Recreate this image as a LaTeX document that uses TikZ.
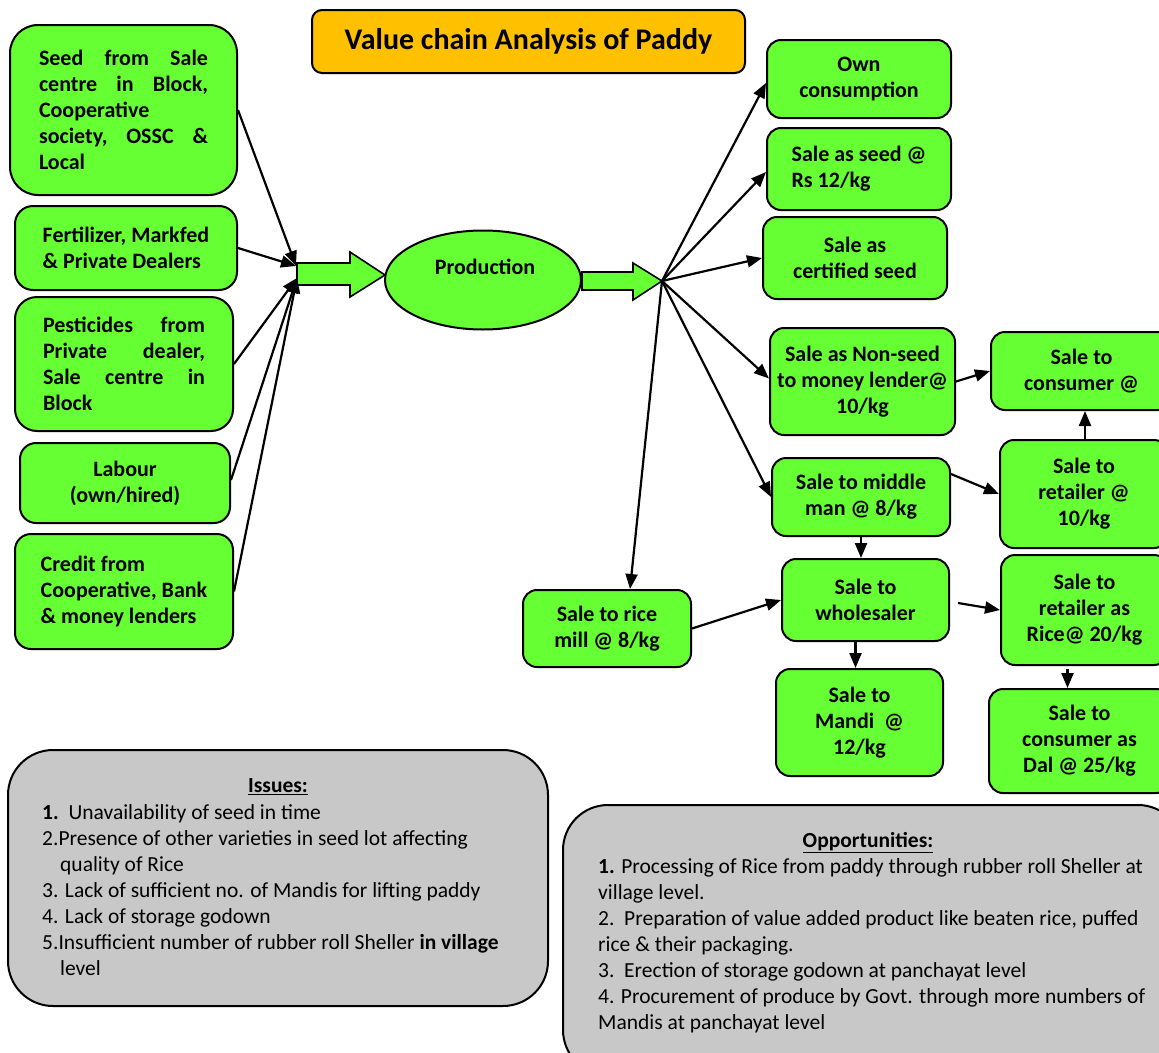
\documentclass[tikz,border=0pt]{standalone}
\usepackage{fontspec}
\setmainfont{Carlito}
\usetikzlibrary{shapes.geometric,arrows.meta}
\definecolor{boxgreen}{HTML}{66FF33}
\definecolor{titleorange}{HTML}{FFC000}
\definecolor{notegray}{HTML}{C8C8C8}
\newcommand{\spread}[2]{\makebox[#1]{#2}}
\begin{document}
\begin{tikzpicture}[x=1pt,y=-1pt,
  gbox/.style={draw, line width=2pt, fill=boxgreen, rounded corners=14pt,
    inner sep=0pt, align=flush center, font=\bfseries\fontsize{22}{26}\selectfont},
  link/.style={line width=2.2pt, -{Triangle[length=15pt,width=12pt]}},
  note/.style={draw, line width=2pt, fill=notegray, rounded corners=45pt},
  notetext/.style={inner sep=0pt, align=flush left, font=\fontsize{21.5}{26}\selectfont},
  notehead/.style={inner sep=0pt, font=\bfseries\fontsize{21.5}{26}\selectfont},
  blockarrow/.style={draw, line width=1.6pt, fill=boxgreen, line join=miter}
]
\useasboundingbox (0,0) rectangle (1159,1052);
\clip (0,0) rectangle (1159,1052);

% title
\node[draw, line width=2pt, fill=titleorange, rounded corners=10pt, inner sep=0pt,
  minimum width=433pt, minimum height=63pt, font=\bfseries\fontsize{30}{34}\selectfont]
  (title) at (528.5,41.5) {Value chain Analysis of Paddy};

% inputs
\node[gbox, rounded corners=28pt, minimum width=227pt, minimum height=170pt,
  text width=169pt, align=flush left] (seed) at (123.5,110)
  {\spread{169pt}{Seed\hfill from\hfill Sale}\\\spread{169pt}{centre\hfill in\hfill Block,}\\
   Cooperative\\\spread{169pt}{society,\hfill OSSC\hfill \&}\\Local};
\node[gbox, rounded corners=18pt, minimum width=222pt, minimum height=84pt,
  align=flush left] (fert) at (126,248)
  {Fertilizer, Markfed\\\& Private Dealers};
\node[gbox, rounded corners=22pt, minimum width=218pt, minimum height=134pt,
  text width=162pt, align=flush left] (pest) at (124,364)
  {\spread{162pt}{Pesticides\hfill from}\\\spread{162pt}{Private\hfill dealer,}\\
   \spread{162pt}{Sale\hfill centre\hfill in}\\Block};
\node[gbox, rounded corners=16pt, minimum width=210pt, minimum height=80pt]
  (labour) at (125,483) {Labour\\(own/hired)};
\node[gbox, rounded corners=16pt, minimum width=218pt, minimum height=115pt,
  align=flush left] (credit) at (124,591.5)
  {Credit from\\Cooperative, Bank\\\& money lenders};

% production
\node[draw, ellipse, line width=2pt, fill=boxgreen, minimum width=196pt,
  minimum height=99pt, inner sep=0pt] (prod) at (483,280) {};
\node[inner sep=0pt, font=\bfseries\fontsize{22}{26}\selectfont] (prodtext) at (485,267) {Production};

% outlets
\node[gbox, minimum width=184pt, minimum height=78pt] (own) at (859,79) {Own\\consumption};
\node[gbox, minimum width=184pt, minimum height=82pt, align=flush left]
  (seedsale) at (859,169) {Sale as seed @\\Rs 12/kg};
\node[gbox, minimum width=184pt, minimum height=82pt] (cert) at (855,258) {Sale as\\certified seed};
\node[gbox, minimum width=185pt, minimum height=107pt] (nonseed) at (862.5,381.5)
  {Sale as Non-seed\\to money lender@\\10/kg};
\node[gbox, minimum width=181pt, minimum height=78pt] (consumer) at (1081.5,371)
  {Sale to\\consumer @};
\node[gbox, minimum width=178pt, minimum height=78pt] (middle) at (861,497)
  {Sale to middle\\man @ 8/kg};
\node[gbox, minimum width=168pt, minimum height=108pt] (retail) at (1084,494)
  {Sale to\\retailer @\\10/kg};
\node[gbox, minimum width=167pt, minimum height=82pt] (whole) at (865.5,600)
  {Sale to\\wholesaler};
\node[gbox, minimum width=167pt, minimum height=110pt] (retailrice) at (1084.5,610)
  {Sale to\\retailer as\\Rice@ 20/kg};
\node[gbox, minimum width=168pt, minimum height=77pt] (ricemill) at (607,628.5)
  {Sale to rice\\mill @ 8/kg};
\node[gbox, minimum width=167pt, minimum height=107pt] (mandi) at (859.5,722.5)
  {Sale to\\Mandi\ \ @\\12/kg};
\node[gbox, minimum width=181pt, minimum height=104pt] (dal) at (1079.5,741)
  {Sale to\\consumer as\\Dal @ 25/kg};

% block arrows into and out of production
\draw[blockarrow] (297,263) -- (350,263) -- (350,252) -- (385,275) -- (350,297)
  -- (350,285) -- (297,285) -- cycle;
\draw[blockarrow] (582,272) -- (633,272) -- (633,263) -- (662,281) -- (633,300)
  -- (633,290) -- (582,290) -- cycle;

\coordinate (inA) at (296,266);
\coordinate (inB) at (297,278);
\coordinate (hub) at (662,281);

% inputs converge
\draw[link] (seed.east) -- (inA);
\draw[link] (fert.east) -- (inA);
\draw[link] (pest.east) -- (inB);
\draw[link] ([yshift=3pt]labour.east) -- (inB);
\draw[link] (credit.east) -- (inB);

% fan-out from production
\draw[link] (hub) -- ([yshift=-4pt]own.west);
\draw[link] (hub) -- ([yshift=-3pt]seedsale.west);
\draw[link] (hub) -- (cert.west);
\draw[link] (hub) -- ([yshift=3pt]nonseed.west);
\draw[link] (hub) -- (middle.west);
\draw[link] (hub) -- ([xshift=23pt]ricemill.north);

% onward channels
\draw[link] (nonseed.east) -- (consumer.west);
\draw[link] ([xshift=1pt]retail.north) -- ([xshift=1pt]retail.north |- consumer.south);
\draw[link] ([yshift=23pt]middle.east) -- (retail.west);
\draw[link] (middle.south) -- (middle.south |- whole.north);
\draw[link] (ricemill.east) -- (whole.west);
\draw[link] ([xshift=8pt,yshift=-3pt]whole.east) -- (retailrice.west);
\draw[link] ([xshift=-10pt]whole.south) -- ([xshift=-10pt]whole.south |- mandi.north);
\draw[link] ([xshift=-17pt,yshift=-3pt]retailrice.south) -- ([xshift=-17pt]retailrice.south |- dal.north);

% issues
\node[note, minimum width=540pt, minimum height=256pt] (issues) at (278,878) {};
\node[notehead] (issuestitle) at (278,787) {\underline{Issues:}};
\node[notetext, anchor=west] (issuelist) at (42,890)
  {\textbf{1.}\ \ Unavailability of seed in time\\
   2.Presence of other varieties in seed lot affecting\\
   \hspace*{18pt}quality of Rice\\
   3. Lack of sufficient no. of Mandis for lifting paddy\\
   4. Lack of storage godown\\
   5.Insufficient number of rubber roll Sheller \textbf{in village}\\
   \hspace*{18pt}level};

% opportunities
\node[note, minimum width=620pt, minimum height=270pt] (opps) at (873,940) {};
\node[notehead] (oppstitle) at (868,843) {\underline{Opportunities:}};
\node[notetext, anchor=west] (opplist) at (598,945.5)
  {\textbf{1.} Processing of Rice from paddy through rubber roll Sheller at\\
   village level.\\
   2.\ \ Preparation of value added product like beaten rice, puffed\\
   rice \& their packaging.\\
   3.\ \ Erection of storage godown at panchayat level\\
   4. Procurement of produce by Govt. through more numbers of\\
   Mandis at panchayat level};
\end{tikzpicture}
\end{document}
